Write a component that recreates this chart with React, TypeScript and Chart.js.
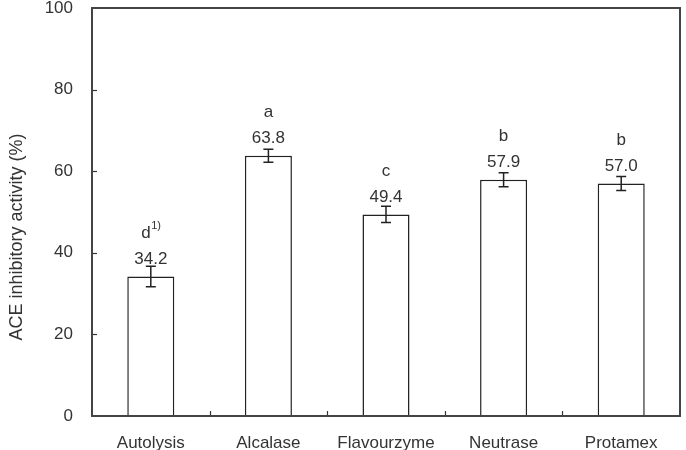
import React, { useEffect, useRef } from "react";
import { Chart, registerables } from "chart.js";

Chart.register(...registerables);

const categories = ["Autolysis", "Alcalase", "Flavourzyme", "Neutrase", "Protamex"];
const values = [34.2, 63.8, 49.4, 57.9, 57.0];
const errors = [2.5, 1.6, 2.0, 1.7, 1.7];
const valueLabels = ["34.2", "63.8", "49.4", "57.9", "57.0"];
const letters = ["d", "a", "c", "b", "b"];
const letterSup = ["1)", "", "", "", ""];
const yMin = 0;
const yMax = 100;
const yStep = 20;
const yTitle = "ACE inhibitory activity (%)";

const FONT = "'Liberation Sans', Arial, Helvetica, sans-serif";
const TEXT = "#333";
const LINE = "#333";

const decorPlugin = {
  id: "decor",
  afterDatasetsDraw(chart: any) {
    const ctx = chart.ctx;
    const area = chart.chartArea;
    const ys = chart.scales.y;
    const meta = chart.getDatasetMeta(0);
    ctx.save();

    // error bars
    ctx.strokeStyle = "#222";
    ctx.lineWidth = 1.5;
    meta.data.forEach((bar: any, i: number) => {
      const x = bar.x;
      const yt = ys.getPixelForValue(values[i] + errors[i]);
      const yb = ys.getPixelForValue(values[i] - errors[i]);
      ctx.beginPath();
      ctx.moveTo(x, yt);
      ctx.lineTo(x, yb);
      ctx.moveTo(x - 5, yt);
      ctx.lineTo(x + 5, yt);
      ctx.moveTo(x - 5, yb);
      ctx.lineTo(x + 5, yb);
      ctx.stroke();
    });

    // labels
    ctx.fillStyle = TEXT;
    ctx.textAlign = "center";
    ctx.textBaseline = "middle";
    meta.data.forEach((bar: any, i: number) => {
      const x = bar.x;
      const yv = ys.getPixelForValue(values[i]);
      ctx.font = `17px ${FONT}`;
      ctx.fillText(valueLabels[i], x, yv - 17);
      if (letterSup[i]) {
        const w = ctx.measureText(letters[i]).width;
        ctx.font = `11px ${FONT}`;
        const sw = ctx.measureText(letterSup[i]).width;
        const total = w + sw;
        const x0 = x - total / 2;
        ctx.font = `17px ${FONT}`;
        ctx.textAlign = "left";
        ctx.fillText(letters[i], x0, yv - 43);
        ctx.font = `11px ${FONT}`;
        ctx.fillText(letterSup[i], x0 + w + 0.5, yv - 50);
        ctx.textAlign = "center";
      } else {
        ctx.font = `17px ${FONT}`;
        ctx.fillText(letters[i], x, yv - 43);
      }
    });

    // inward ticks
    ctx.strokeStyle = LINE;
    ctx.lineWidth = 1.2;
    for (let v = yMin + yStep; v < yMax; v += yStep) {
      const y = Math.round(ys.getPixelForValue(v)) + 0.5;
      ctx.beginPath();
      ctx.moveTo(area.left, y);
      ctx.lineTo(area.left + 5, y);
      ctx.stroke();
    }
    for (let i = 0; i < meta.data.length - 1; i++) {
      const x = Math.round((meta.data[i].x + meta.data[i + 1].x) / 2) + 0.5;
      ctx.beginPath();
      ctx.moveTo(x, area.bottom);
      ctx.lineTo(x, area.bottom - 5);
      ctx.stroke();
    }

    // frame
    ctx.strokeStyle = "#444";
    ctx.lineWidth = 2;
    ctx.strokeRect(area.left, area.top, area.right - area.left, area.bottom - area.top);

    // y title
    ctx.fillStyle = TEXT;
    ctx.font = `18px ${FONT}`;
    ctx.translate(17, 237);
    ctx.rotate(-Math.PI / 2);
    ctx.textAlign = "center";
    ctx.textBaseline = "middle";
    ctx.fillText(yTitle, 0, 0);
    ctx.restore();
  },
};

export default function App() {
  const ref = useRef<HTMLCanvasElement | null>(null);
  useEffect(() => {
    if (!ref.current) return;
    const chart = new Chart(ref.current, {
      type: "bar",
      data: {
        labels: categories,
        datasets: [
          {
            data: values,
            backgroundColor: "#ffffff",
            borderColor: "#222",
            borderWidth: 1.5,
            categoryPercentage: 1,
            barPercentage: 0.4,
          },
        ],
      },
      options: {
        animation: false,
        responsive: true,
        maintainAspectRatio: false,
        layout: { padding: { top: 8, right: 6, left: 0, bottom: 0 } },
        plugins: {
          legend: { display: false },
          tooltip: { enabled: false },
        },
        scales: {
          x: {
            grid: { display: false, drawTicks: false },
            border: { display: false },
            ticks: {
              color: TEXT,
              font: { family: FONT, size: 17 },
              padding: 17,
              maxRotation: 0,
              autoSkip: false,
            },
            afterFit: (s: any) => {
              s.height = 34;
              s.paddingLeft = 0;
              s.paddingRight = 0;
            },
          },
          y: {
            min: yMin,
            max: yMax,
            grid: { display: false, drawTicks: false },
            border: { display: false },
            ticks: {
              stepSize: yStep,
              color: TEXT,
              font: { family: FONT, size: 17 },
              padding: 19,
            },
            afterFit: (s: any) => {
              s.width = 92;
              s.paddingTop = 0;
              s.paddingBottom = 0;
            },
          },
        },
      },
      plugins: [decorPlugin],
    });
    return () => chart.destroy();
  }, []);
  return (
    <div style={{ position: "fixed", left: 0, top: 0, width: 686, height: 450, background: "#fff" }}>
      <canvas ref={ref} />
    </div>
  );
}
